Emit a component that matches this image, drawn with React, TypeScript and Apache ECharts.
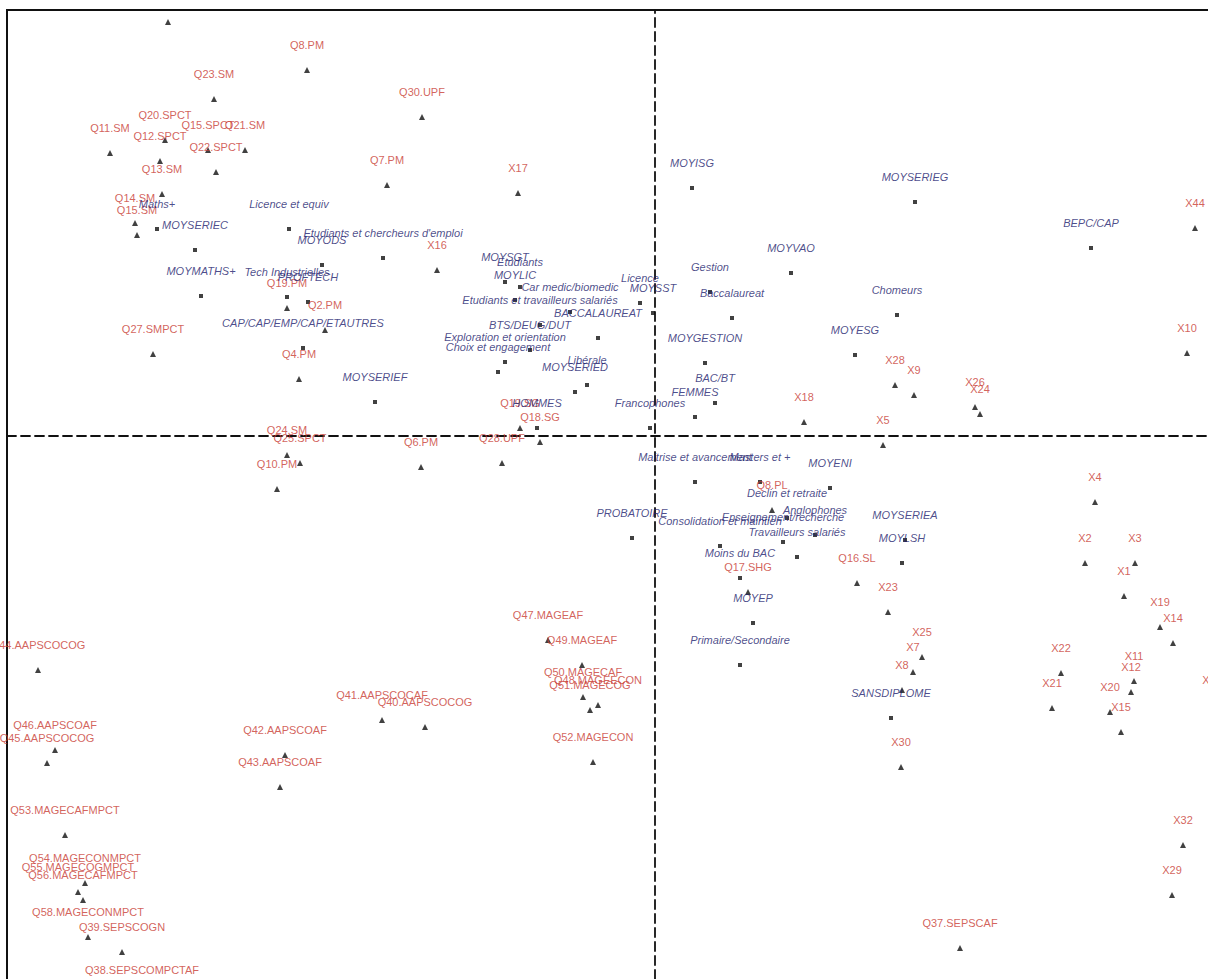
import React, { useEffect, useRef } from "react";
import * as echarts from "echarts";

// Correspondence-analysis map: supplementary questions (red, triangles) and active modalities (blue, squares)
const questionNames = [
  "", "Q8.PM", "Q23.SM", "Q30.UPF", "Q20.SPCT", "Q11.SM", "Q12.SPCT", "Q15.SPCT", "Q21.SM", "Q22.SPCT",
  "Q13.SM", "Q14.SM", "Q15.SM", "Q7.PM", "X17", "X16", "Q19.PM", "Q2.PM", "Q27.SMPCT", "Q4.PM",
  "Q24.SM", "Q25.SPCT", "Q10.PM", "Q6.PM", "Q28.UPF", "Q18.SG", "Q19.SG", "X28", "X9", "X26",
  "X24", "X5", "X18", "X44", "X10", "X4", "X2", "X3", "X1", "X19",
  "X14", "X22", "X21", "X11", "X12", "X20", "X15", "X13", "X25", "X7",
  "X8", "X23", "X30", "Q16.SL", "Q17.SHG", "Q8.PL", "X32", "X29", "Q37.SEPSCAF", "Q47.MAGEAF",
  "Q49.MAGEAF", "Q50.MAGECAF", "Q48.MAGEECON", "Q51.MAGECOG", "Q52.MAGECON", "Q41.AAPSCOCAF", "Q40.AAPSCOCOG", "Q42.AAPSCOAF", "Q43.AAPSCOAF", "Q44.AAPSCOCOG",
  "Q46.AAPSCOAF", "Q45.AAPSCOCOG", "Q53.MAGECAFMPCT", "Q54.MAGECONMPCT", "Q55.MAGECOGMPCT", "Q56.MAGECAFMPCT", "Q58.MAGECONMPCT", "Q39.SEPSCOGN", "Q38.SEPSCOMPCTAF"
];
const questionDim1 = [
  -1.948, -1.392, -1.764, -0.932, -1.96, -2.18, -1.98, -1.788, -1.64, -1.756,
  -1.972, -2.08, -2.072, -1.072, -0.548, -0.872, -1.472, -1.32, -2.008, -1.424,
  -1.472, -1.42, -1.512, -0.936, -0.612, -0.46, -0.54, 0.96, 1.036, 1.28,
  1.30, 0.912, 0.596, 2.16, 2.128, 1.76, 1.72, 1.92, 1.876, 2.02,
  2.072, 1.624, 1.588, 1.916, 1.904, 1.82, 1.864, 2.228, 1.068, 1.032,
  0.988, 0.932, 0.984, 0.808, 0.372, 0.468, 2.112, 2.068, 1.22, -0.428,
  -0.292, -0.288, -0.228, -0.26, -0.248, -1.092, -0.92, -1.48, -1.50, -2.468,
  -2.40, -2.432, -2.36, -2.28, -2.308, -2.288, -2.268, -2.132, -2.052
];
const questionDim2 = [
  1.656, 1.464, 1.348, 1.276, 1.184, 1.132, 1.10, 1.144, 1.144, 1.056,
  0.968, 0.852, 0.804, 1.004, 0.972, 0.664, 0.512, 0.424, 0.328, 0.228,
  -0.076, -0.108, -0.212, -0.124, -0.108, -0.024, 0.032, 0.204, 0.164, 0.116,
  0.088, -0.036, 0.056, 0.832, 0.332, -0.264, -0.508, -0.508, -0.64, -0.764,
  -0.828, -0.948, -1.088, -0.98, -1.024, -1.104, -1.184, -1.076, -0.884, -0.944,
  -1.016, -0.704, -1.324, -0.588, -0.624, -0.296, -1.636, -1.836, -2.048, -0.816,
  -0.916, -1.044, -1.076, -1.096, -1.304, -1.136, -1.164, -1.276, -1.404, -0.936,
  -1.256, -1.308, -1.596, -1.788, -1.824, -1.856, -2.004, -2.064, -2.236
];

const modalityNames = [
  "Maths+", "MOYSERIEC", "Licence et equiv", "Etudiants et chercheurs d'emploi", "MOYODS", "MOYMATHS+", "Tech Industrielles", "PROFTECH", "CAP/CAP/EMP/CAP/ETAUTRES", "MOYSERIEF",
  "MOYSGT", "Etudiants", "MOYLIC", "Car medic/biomedic", "Etudiants et travailleurs salariés", "BACCALAUREAT", "Licence", "MOYSST", "Gestion", "Baccalaureat",
  "MOYISG", "MOYVAO", "MOYSERIEG", "BEPC/CAP", "Chomeurs", "MOYESG", "MOYGESTION", "BAC/BT", "FEMMES", "Francophones",
  "Maitrise et avancement", "Masters et +", "MOYENI", "Declin et retraite", "Anglophones", "Enseignement/recherche", "Consolidation et maintien", "Travailleurs salariés", "Moins du BAC", "PROBATOIRE",
  "MOYSERIEA", "MOYLSH", "MOYEP", "Primaire/Secondaire", "SANSDIPLOME", "HOMMES", "BTS/DEUG/DUT", "Exploration et orientation", "Choix et engagement", "Libérale",
  "MOYSERIED"
];
const modalityDim1 = [
  -1.992, -1.84, -1.464, -1.088, -1.332, -1.816, -1.472, -1.388, -1.408, -1.12,
  -0.60, -0.54, -0.56, -0.34, -0.46, -0.228, -0.06, -0.008, 0.22, 0.308,
  0.148, 0.544, 1.04, 1.744, 0.968, 0.8, 0.2, 0.24, 0.16, -0.02,
  0.16, 0.42, 0.70, 0.528, 0.64, 0.512, 0.26, 0.568, 0.34, -0.092,
  1.0, 0.988, 0.392, 0.34, 0.944, -0.472, -0.50, -0.60, -0.628, -0.272,
  -0.32
];
const modalityDim2 = [
  0.828, 0.744, 0.828, 0.712, 0.684, 0.56, 0.556, 0.536, 0.352, 0.136,
  0.616, 0.596, 0.544, 0.496, 0.444, 0.392, 0.532, 0.492, 0.576, 0.472,
  0.992, 0.652, 0.936, 0.752, 0.484, 0.324, 0.292, 0.132, 0.076, 0.032,
  -0.184, -0.184, -0.208, -0.328, -0.396, -0.424, -0.44, -0.484, -0.568, -0.408,
  -0.416, -0.508, -0.748, -0.916, -1.128, 0.032, 0.344, 0.296, 0.256, 0.204,
  0.176
];

const dim1Range = [-2.592, 2.212];
const dim2Range = [-2.172, 1.704];

export default function App() {
  const ref = useRef<HTMLDivElement>(null);
  useEffect(() => {
    if (!ref.current) return;
    const chart = echarts.init(ref.current, undefined, { renderer: "svg" });
    const font = "'Liberation Sans', Arial, sans-serif";
    const axisCommon = {
      type: "value" as const,
      splitLine: { show: false },
      axisTick: { show: false },
      axisLabel: { show: false },
      axisLine: { show: true, onZero: true, lineStyle: { color: "#111", type: [9, 5], width: 1.8 } },
    };
    chart.setOption({
      animation: false,
      backgroundColor: "#fff",
      grid: { left: 7, top: 10, right: 0, bottom: 0, show: false },
      xAxis: { ...axisCommon, min: dim1Range[0], max: dim1Range[1] },
      yAxis: { ...axisCommon, min: dim2Range[0], max: dim2Range[1] },
      graphic: [
        {
          type: "polyline",
          silent: true,
          shape: { points: [[7, 979], [7, 10], [1208, 10]] },
          style: { stroke: "#111", lineWidth: 2, fill: "none" },
        },
      ],
      series: [
        {
          type: "scatter",
          name: "Questions",
          clip: false,
          symbol: "triangle",
          symbolSize: 6,
          itemStyle: { color: "#111" },
          data: questionNames.map((n, i) => ({ name: n, value: [questionDim1[i], questionDim2[i]] })),
          label: { show: true, position: "top", distance: 17, formatter: "{b}", color: "#c83a32", fontSize: 11, fontFamily: font },
        },
        {
          type: "scatter",
          name: "Modalites",
          clip: false,
          symbol: "rect",
          symbolSize: 4,
          itemStyle: { color: "#111" },
          data: modalityNames.map((n, i) => ({ name: n, value: [modalityDim1[i], modalityDim2[i]] })),
          label: { show: true, position: "top", distance: 18, formatter: "{b}", color: "#1d1d6e", fontSize: 11, fontStyle: "italic", fontFamily: font },
        },
      ],
    });
    return () => chart.dispose();
  }, []);
  return <div ref={ref} style={{ position: "fixed", left: 0, top: 0, width: 1208, height: 979, background: "#fff" }} />;
}
